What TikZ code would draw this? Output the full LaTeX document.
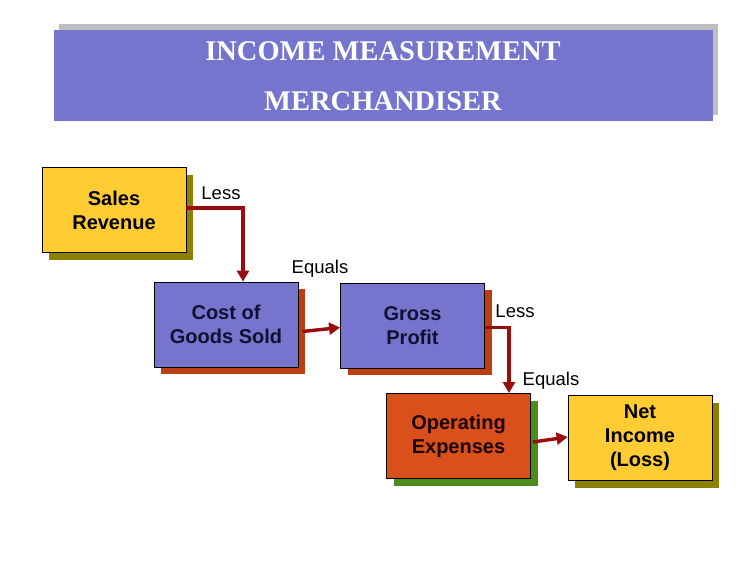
\documentclass[tikz,border=0pt]{standalone}
\usepackage{fontspec}
\setmainfont{Liberation Sans}
\newfontfamily\titlefont{Liberation Serif}
\usetikzlibrary{arrows.meta,shadows}
\definecolor{bannerblue}{RGB}{117,117,206}
\definecolor{boxblue}{RGB}{117,117,206}
\definecolor{boxyellow}{RGB}{255,204,51}
\definecolor{olivesh}{RGB}{140,128,0}
\definecolor{redsh}{RGB}{190,62,20}
\definecolor{orangefill}{RGB}{217,80,27}
\definecolor{greensh}{RGB}{76,140,26}
\definecolor{arrowred}{RGB}{155,12,12}
\definecolor{greysh}{RGB}{190,190,194}
\definecolor{navytext}{RGB}{16,16,48}
\begin{document}
\begin{tikzpicture}[x=1pt,y=-1pt,
  box/.style={draw=black, line width=0.8pt, minimum width=144pt, minimum height=85pt,
    align=center, font=\fontsize{20}{24}\selectfont\bfseries, inner sep=0pt},
  shad/.style={general shadow={shadow xshift=7pt, shadow yshift=-7pt, fill=#1}},
  arr/.style={draw=arrowred, line width=3.4pt, -{Triangle[length=11pt,width=12pt]}},
  lbl/.style={font=\fontsize{18.5}{22}\selectfont, inner sep=0pt},
  ttl/.style={text=white, font=\titlefont\fontsize{28.5}{30}\selectfont\bfseries, inner sep=0pt}]
\useasboundingbox (0,0) rectangle (756,576);
\fill[white] (0,0) rectangle (756,576);
% banner
\node[fill=bannerblue, minimum width=659pt, minimum height=91pt, inner sep=0pt,
  general shadow={shadow xshift=5pt, shadow yshift=6pt, fill=greysh}] (banner) at (383.5,75.5) {};
\node[ttl] (t1) at (383,51.5) {INCOME MEASUREMENT};
\node[ttl] (t2) at (383,101.5) {MERCHANDISER};
% boxes
\node[box, fill=boxyellow, shad=olivesh] (sales) at (114,210) {Sales\\Revenue};
\node[box, fill=boxblue, text=navytext, shad=redsh] (cogs) at (226,324.5) {Cost of\\Goods Sold};
\node[box, fill=boxblue, text=navytext, shad=redsh] (gross) at (412.5,325.5) {Gross\\Profit};
\node[box, fill=orangefill, text=black!90!red, shad=greensh] (opex) at (458.5,436) {Operating\\Expenses};
\node[box, fill=boxyellow, shad=olivesh] (net) at (640,438) {Net\\Income\\(Loss)};
% arrows
\draw[arr] ([yshift=2pt]sales.east) -| ([xshift=17pt]cogs.north);
\draw[arr] ([xshift=4pt,yshift=-7pt]cogs.east) -- ([yshift=-2pt]gross.west);
\draw[arr] ([yshift=-2pt]gross.east) -| ([xshift=50.5pt]opex.north);
\draw[arr] ([xshift=2pt,yshift=-6pt]opex.east) -- ([yshift=1pt]net.west);
% labels
\node[lbl] (l1) at (221,193) {Less};
\node[lbl] (e1) at (320,269) {Equals};
\node[lbl] (l2) at (515,311) {Less};
\node[lbl] (e2) at (551,381) {Equals};
\end{tikzpicture}
\end{document}
